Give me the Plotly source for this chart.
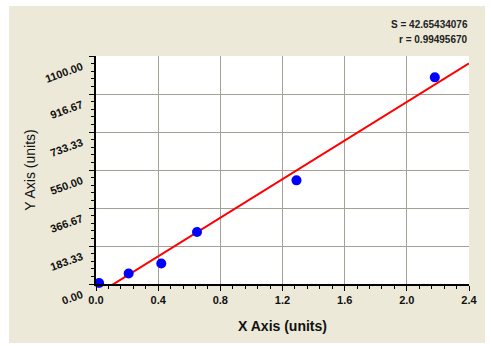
import numpy as np
import plotly.graph_objects as go

# Data
x_vals = [0.02, 0.21, 0.42, 0.65, 1.29, 2.18]
y_vals = [5, 51, 99, 251, 500, 997]

x_ticks = [0.0, 0.4, 0.8, 1.2, 1.6, 2.0, 2.4]
x_ticktext = ["0.0", "0.4", "0.8", "1.2", "1.6", "2.0", "2.4"]
y_ticks = [0, 1100 / 6, 2200 / 6, 550, 4400 / 6, 5500 / 6, 1100]
y_ticktext = ["0.00", "183.33", "366.67", "550.00", "733.33", "916.67", "1100.00"]

stat_lines = ["S = 42.65434076", "r = 0.99495670"]

# Linear fit
slope, intercept = np.polyfit(x_vals, y_vals, 1)
fit_x = [0.0, 2.4]
fit_y = [slope * v + intercept for v in fit_x]

W, H = 491, 348
L, R, T, B = 96, 22, 56, 64
pw, ph = W - L - R, H - T - B

def px_x(p):
    return (p - L) / pw

def px_y(p):
    return (H - B - p) / ph

font = "Liberation Sans, Arial, sans-serif"
grid_col = "#A3A095"

fig = go.Figure()
fig.add_trace(go.Scatter(x=fit_x, y=fit_y, mode="lines",
                         line=dict(color="#FF0000", width=2), hoverinfo="skip"))
fig.add_trace(go.Scatter(x=x_vals, y=y_vals, mode="markers", cliponaxis=False,
                         marker=dict(color="#0000FF", size=10, line=dict(width=0))))

fig.update_layout(
    width=W, height=H,
    margin=dict(l=L, r=R, t=T, b=B, pad=0),
    paper_bgcolor="white",
    plot_bgcolor="white",
    showlegend=False,
    font=dict(family=font, color="#111111"),
    shapes=[
        dict(type="rect", xref="paper", yref="paper", layer="below",
             x0=px_x(9), x1=px_x(485), y0=px_y(343), y1=px_y(6),
             fillcolor="#ECE9D8", line=dict(width=0)),
        dict(type="rect", xref="paper", yref="paper", layer="below",
             x0=0, x1=1, y0=0, y1=1, fillcolor="white", line=dict(width=0)),
    ],
    xaxis=dict(
        range=[0, 2.4], tickmode="array", tickvals=x_ticks, ticktext=x_ticktext,
        showgrid=True, gridcolor=grid_col, gridwidth=1.3, zeroline=False,
        showline=True, linecolor="black", linewidth=2,
        ticks="outside", ticklen=5, tickwidth=1, tickcolor="black",
        minor=dict(dtick=0.08, ticks="outside", ticklen=3, tickcolor="black", showgrid=False),
        tickfont=dict(family=font, size=11, color="#111111", weight="bold"),
        title=dict(text="<b>X Axis (units)</b>", font=dict(family=font, size=14, color="#111111"),
                   standoff=16),
        fixedrange=True,
    ),
    yaxis=dict(
        range=[0, 1100], tickmode="array", tickvals=y_ticks, ticktext=y_ticktext,
        showgrid=True, gridcolor=grid_col, gridwidth=1.3, zeroline=False,
        showline=True, linecolor="black", linewidth=2,
        ticks="outside", ticklen=5, tickwidth=1, tickcolor="black",
        minor=dict(tickvals=[i * 1100 / 30 for i in range(31)], ticks="outside",
                   ticklen=3, tickcolor="black", showgrid=False),
        tickangle=-20,
        ticklabelshift=10,
        ticklabelstandoff=5,
        tickfont=dict(family=font, size=11, color="#111111", weight="bold"),
        title=dict(text="Y Axis (units)", font=dict(family=font, size=14, color="#111111"),
                   standoff=5),
        fixedrange=True,
    ),
    annotations=[
        dict(text="<b>" + stat_lines[0] + "</b>", xref="paper", yref="paper",
             x=px_x(470), y=px_y(25), xanchor="right", yanchor="middle",
             showarrow=False, font=dict(family=font, size=10, color="#222222")),
        dict(text="<b>" + stat_lines[1] + "</b>", xref="paper", yref="paper",
             x=px_x(470), y=px_y(39), xanchor="right", yanchor="middle",
             showarrow=False, font=dict(family=font, size=10, color="#222222")),
    ],
)

fig.write_html("out.html", config={"displayModeBar": False})
